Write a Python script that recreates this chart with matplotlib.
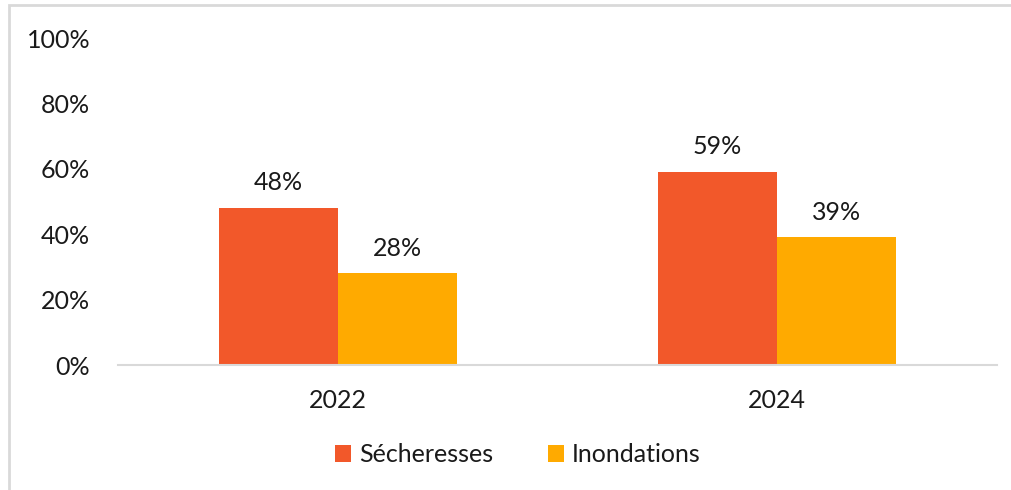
import matplotlib
matplotlib.use('Agg')
import numpy as np
from matplotlib import pyplot as plt
from matplotlib import ticker
from matplotlib.patches import Rectangle

years = ['2022', '2024']
secheresses = [48, 59]
inondations = [28, 39]
series_names = ['Sécheresses', 'Inondations']
colors = ['#F2582A', '#FFAA00']

plt.rcParams['font.family'] = ['Lato', 'DejaVu Sans']
text_color = '#1a1a1a'

fig = plt.figure(figsize=(10.12, 4.9), dpi=100)
ax = fig.add_axes([0.1166, 0.2551, 0.8684, 0.6673])

# light frame around the chart area (only top and left show)
fig.patches.append(Rectangle((9 / 1012, -0.1), 1.2, (490 - 5) / 490 + 0.1,
                             transform=fig.transFigure, fill=False,
                             edgecolor='#D9D9D9', linewidth=2))

x = np.arange(len(years))
width = 0.271
bars1 = ax.bar(x - width / 2, secheresses, width, color=colors[0],
               label=series_names[0])
bars2 = ax.bar(x + width / 2, inondations, width, color=colors[1],
               label=series_names[1])

for bars in (bars1, bars2):
    for bar in bars:
        ax.annotate(f'{bar.get_height():.0f}%',
                    (bar.get_x() + bar.get_width() / 2, bar.get_height()),
                    xytext=(0, 10), textcoords='offset points',
                    ha='center', va='bottom', fontsize=18, color=text_color)

ax.set_xlim(-0.5, 1.5)
ax.set_ylim(0, 100)
ax.yaxis.set_major_locator(ticker.MultipleLocator(20))
ax.yaxis.set_major_formatter(ticker.FuncFormatter(lambda v, p: f'{v:.0f}%'))
ax.set_xticks(x)
ax.set_xticklabels(years)

for side in ('top', 'right', 'left'):
    ax.spines[side].set_visible(False)
ax.spines['bottom'].set_color('#D9D9D9')
ax.spines['bottom'].set_linewidth(1.5)
ax.tick_params(axis='both', length=0, labelsize=18, colors=text_color)
ax.tick_params(axis='y', pad=20)
ax.tick_params(axis='x', pad=17)

ax.legend(loc='center', bbox_to_anchor=(0.455, -0.275), ncol=2, frameon=False,
          fontsize=18, handlelength=0.65, handleheight=0.65,
          handletextpad=0.3, columnspacing=2.2, labelcolor=text_color)

fig.savefig('out.png', dpi=100, facecolor='white')
